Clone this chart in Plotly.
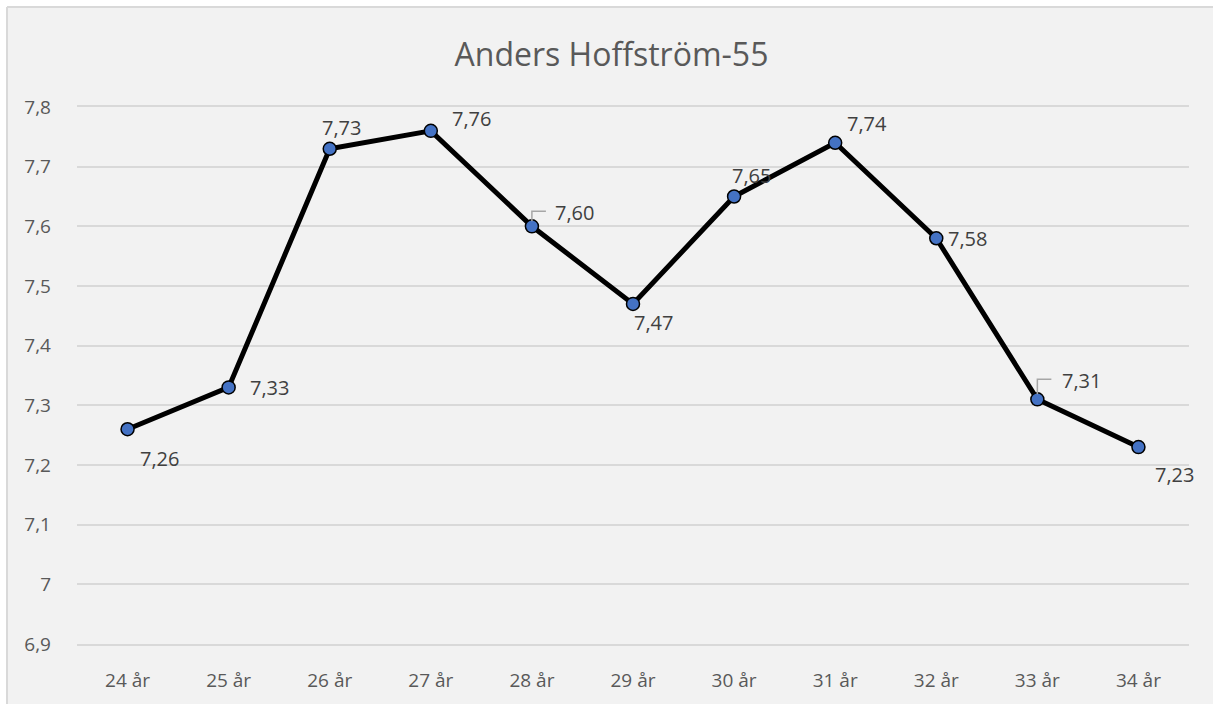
import plotly.graph_objects as go

categories = ["24 år", "25 år", "26 år", "27 år", "28 år", "29 år",
              "30 år", "31 år", "32 år", "33 år", "34 år"]
values = [7.26, 7.33, 7.73, 7.76, 7.60, 7.47, 7.65, 7.74, 7.58, 7.31, 7.23]
title_text = "Anders Hoffström-55"

# label pixel offsets (dx, dy up) and whether a leader line is drawn
label_offsets = [(32, -29), (41, 0), (12, 21), (41, 12), (43, 14), (20, -19),
                 (17, 21), (32, 19), (31, 0), (44, 19), (36, -27)]
leaders = [False, False, False, False, True, False, False, False, False, True, False]

W, H = 1213, 704
ML, MR, MT, MB = 77, 24, 107, 60
PW, PH = W - ML - MR, H - MT - MB

FONT = "Open Sans"
TXT = "#595959"
GRID = "#D9D9D9"

fig = go.Figure()
fig.add_trace(go.Scatter(
    x=categories, y=values, mode="lines+markers",
    line=dict(color="black", width=5),
    marker=dict(size=13, color="#4472C4", line=dict(color="black", width=1.5)),
    hoverinfo="skip", showlegend=False,
))

annotations = []
shapes = []
# chart-area background with border (left and top edges visible)
bx0, bx1 = (7 - ML) / PW, (W + 20 - ML) / PW
by0, by1 = -(MB + 20) / PH, (H - MB - 7) / PH
shapes.append(dict(type="rect", xref="paper", yref="paper", layer="below",
                   x0=bx0, x1=bx1, y0=by0, y1=by1,
                   fillcolor="#F2F2F2", line=dict(width=0)))
shapes.append(dict(type="line", xref="paper", yref="paper", layer="below",
                   x0=bx0, x1=bx1, y0=by1, y1=by1, line=dict(color=GRID, width=2)))
shapes.append(dict(type="line", xref="paper", yref="paper", layer="below",
                   x0=bx0, x1=bx0, y0=by0, y1=by1, line=dict(color=GRID, width=2)))
for c, v, (dx, dy), ld in zip(categories, values, label_offsets, leaders):
    annotations.append(dict(
        x=c, y=v, xref="x", yref="y", text=f"{v:.2f}".replace(".", ","),
        showarrow=False, xshift=dx, yshift=dy,
        font=dict(family=FONT, size=20, color="#404040"),
    ))
    if ld:
        top = dy + 1 if dy < 22 else dy - 2
        shapes.append(dict(
            type="path", xref="x", yref="y", xsizemode="pixel", ysizemode="pixel",
            xanchor=c, yanchor=v,
            path=f"M 0,5 L 0,{top} L 14,{top}",
            line=dict(color="#A6A6A6", width=1.5),
        ))

fig.update_layout(
    width=W, height=H,
    margin=dict(l=ML, r=MR, t=MT, b=MB),
    paper_bgcolor="white", plot_bgcolor="#F2F2F2",
    separators=", ",
    title=dict(text=title_text, x=611.5 / W, xanchor="center",
               y=1 - 55 / H, yanchor="middle",
               font=dict(family=FONT, size=32, color=TXT)),
    xaxis=dict(
        type="category", range=[-0.5, len(categories) - 0.5],
        showgrid=False, zeroline=False,
        showline=True, mirror=True, linecolor=GRID, linewidth=1.5,
        tickfont=dict(family=FONT, size=19, color=TXT),
        ticks="", ticklabelstandoff=18,
    ),
    yaxis=dict(
        range=[6.9, 7.8], dtick=0.1, tick0=6.9,
        showgrid=True, gridcolor=GRID, gridwidth=1.5,
        zeroline=False, showline=False,
        tickfont=dict(family=FONT, size=19, color=TXT),
        ticks="", ticklabelstandoff=25,
    ),
    annotations=annotations,
    shapes=shapes,
)

fig.write_html("out.html", config={"displayModeBar": False},
               post_script="document.body.style.margin='0px';"
                           "document.body.style.overflow='hidden';"
                           "document.documentElement.style.overflow='hidden';")
